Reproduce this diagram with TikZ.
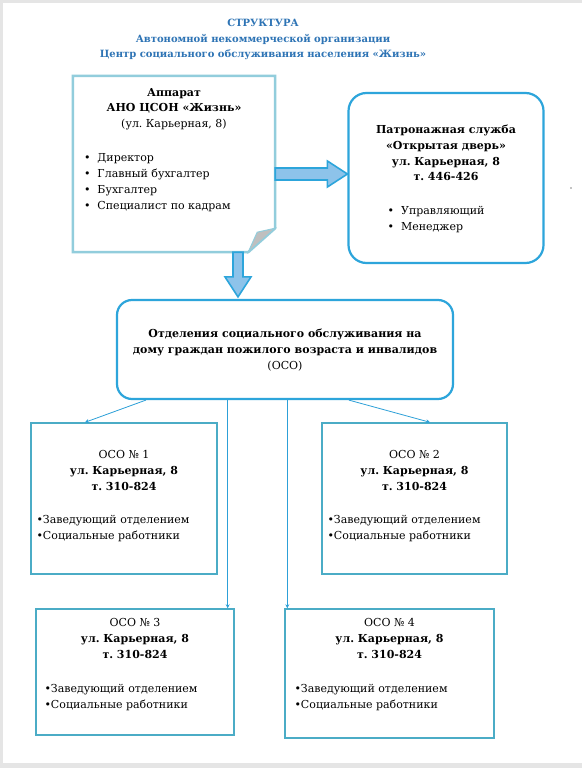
\documentclass[tikz,border=0pt]{standalone}
\usepackage{fontspec}
\setmainfont{DejaVu Serif}
\usepackage{tikz}
\usetikzlibrary{positioning,calc,arrows.meta}
\definecolor{titleblue}{HTML}{2E74B5}
\definecolor{notecyan}{HTML}{92CDDC}
\definecolor{boxblue}{HTML}{2DA5DB}
\definecolor{osoblue}{HTML}{4BACC6}
\definecolor{lineblue}{HTML}{2DA0D8}
\definecolor{arrowfill}{HTML}{8DC3EA}
\definecolor{foldgray}{HTML}{BFBFBF}
\frenchspacing

\begin{document}
\begin{tikzpicture}[x=1pt, y=-1pt,
		every node/.style={inner sep=0pt, font=\fontsize{11}{16}\selectfont},
		title/.style={align=center, text=titleblue, font=\fontsize{10}{15.5}\selectfont\bfseries},
		roundbox/.style={draw=boxblue, line width=2.2pt, rounded corners=18pt},
		osobox/.style={draw=osoblue, line width=1.4pt},
		head/.style={align=center, font=\fontsize{11}{15.7}\selectfont\bfseries},
		items/.style={align=left, anchor=north west},
		link/.style={draw=lineblue, line width=0.8pt, -{Stealth[length=4pt, width=4pt]}},
		bigarrow/.style={draw=boxblue, line width=1.6pt, fill=arrowfill, line join=miter}]
	% page
	\fill[gray!20] (0,0) rectangle (582,768);
	\fill[white] (3,3) rectangle (582,763);

	\node[title, anchor=north] (ttl) at (263,19) {СТРУКТУРА\\Автономной некоммерческой организации\\Центр социального обслуживания населения «Жизнь»};

	% apparat
	\node[minimum width=202pt, minimum height=176pt] (app) at (174,164) {};
	\draw[draw=notecyan, line width=2.5pt, fill=white] (app.north west) -- (app.north east)
		-- ($(app.south east)+(0,-24)$) -- ($(app.south east)+(-27,0)$) -- (app.south west) -- cycle;
	\draw[draw=notecyan, line width=1pt, fill=foldgray] ($(app.south east)+(0,-24)$)
		-- ($(app.south east)+(-18,-20)$) -- ($(app.south east)+(-27,0)$) -- cycle;
	\node[head, below=12pt of app.north] (appT) {Аппарат\\АНО ЦСОН «Жизнь»\\{\mdseries (ул. Карьерная, 8)}};
	\node[items] (appL) at ($(app.north west)+(11,77)$) {\textbullet\hspace{7pt}Директор\\
		\textbullet\hspace{7pt}Главный бухгалтер\\
		\textbullet\hspace{7pt}Бухгалтер\\
		\textbullet\hspace{7pt}Специалист по кадрам};

	% patronage
	\node[roundbox, minimum width=195pt, minimum height=170pt] (pat) at (446,178) {};
	\node[head, below=33pt of pat.north] (patT) {Патронажная служба\\«Открытая дверь»\\ул. Карьерная, 8\\т. 446-426};
	\node[items] (patL) at ($(pat.north west)+(40,114)$) {\textbullet\hspace{7pt}Управляющий\\
		\textbullet\hspace{7pt}Менеджер};
	\fill (571,188) circle (0.7pt);

	% oso
	\node[roundbox, rounded corners=15pt, minimum width=336pt, minimum height=99pt] (oso) at (285,349.5) {};
	\node[head, below=30pt of oso.north] (osoT) {Отделения социального обслуживания на\\дому граждан пожилого возраста и инвалидов\\{\mdseries (ОСО)}};

	\node[osobox, minimum width=186pt, minimum height=151pt] (oso1) at (124,498.5) {};
	\node[head, below=28pt of oso1.north] (oso1T) {{\mdseries ОСО № 1}\\ул. Карьерная, 8\\т. 310-824};
	\node[items] (oso1L) at ($(oso1.north west)+(6,93)$) {\textbullet Заведующий отделением\\\textbullet Социальные работники};

	\node[osobox, minimum width=185pt, minimum height=151pt] (oso2) at (414.5,498.5) {};
	\node[head, below=28pt of oso2.north] (oso2T) {{\mdseries ОСО № 2}\\ул. Карьерная, 8\\т. 310-824};
	\node[items] (oso2L) at ($(oso2.north west)+(6,93)$) {\textbullet Заведующий отделением\\\textbullet Социальные работники};

	\node[osobox, minimum width=198pt, minimum height=126pt] (oso3) at (135,672) {};
	\node[head, below=10pt of oso3.north] (oso3T) {{\mdseries ОСО № 3}\\ул. Карьерная, 8\\т. 310-824};
	\node[items] (oso3L) at ($(oso3.north west)+(9,76)$) {\textbullet Заведующий отделением\\\textbullet Социальные работники};

	\node[osobox, minimum width=209pt, minimum height=129pt] (oso4) at (389.5,673.5) {};
	\node[head, below=10pt of oso4.north] (oso4T) {{\mdseries ОСО № 4}\\ул. Карьерная, 8\\т. 310-824};
	\node[items] (oso4L) at ($(oso4.north west)+(10,76)$) {\textbullet Заведующий отделением\\\textbullet Социальные работники};

	% block arrows
	\coordinate (r0) at ($(app.east)+(0,10)$);
	\coordinate (r1) at (pat.west |- r0);
	\draw[bigarrow] ($(r0)+(0,-6)$) -- ($(r1)+(-20,-6)$) -- ($(r1)+(-20,-13)$) -- (r1)
		-- ($(r1)+(-20,13)$) -- ($(r1)+(-20,6)$) -- ($(r0)+(0,6)$) -- cycle;
	\coordinate (d0) at ($(app.south)+(64,0)$);
	\coordinate (d1) at ($(d0 |- oso.north)+(0,-2)$);
	\draw[bigarrow] ($(d0)+(-5,0)$) -- ($(d1)+(-5,-20)$) -- ($(d1)+(-13,-20)$) -- (d1)
		-- ($(d1)+(13,-20)$) -- ($(d1)+(5,-20)$) -- ($(d0)+(5,0)$) -- cycle;

	% links
	\coordinate (c3) at ($(oso3.north east)+(-7,0)$);
	\coordinate (c4) at ($(oso4.north west)+(3,0)$);
	\draw[link] ($(oso.south west)+(30,0)$) -- ($(oso1.north)+(-39,0)$);
	\draw[link] ($(oso.south west)+(233,0)$) -- ($(oso2.north)+(15.5,0)$);
	\draw[link] (oso.south -| c3) -- (c3);
	\draw[link] (oso.south -| c4) -- (c4);
\end{tikzpicture}
\end{document}
